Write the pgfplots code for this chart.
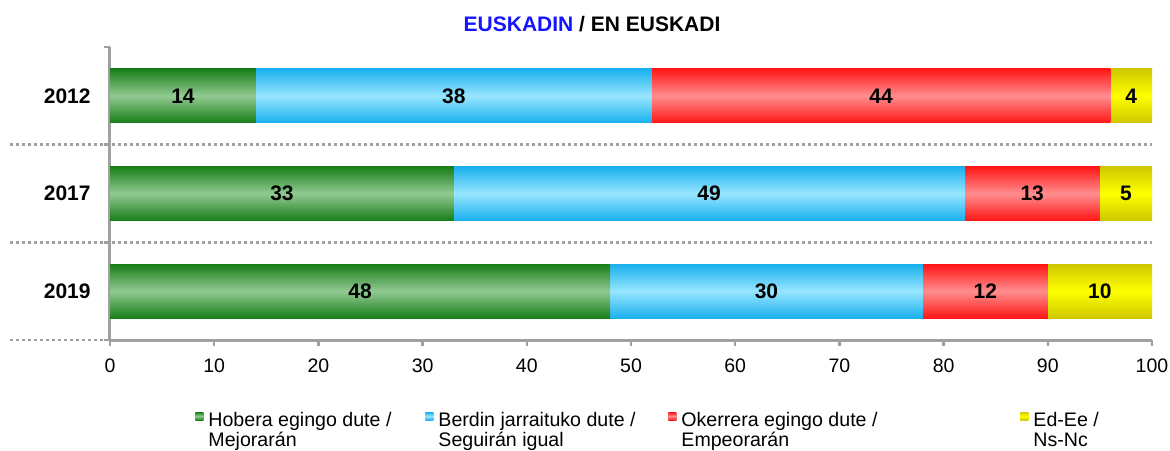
\documentclass[border=0pt]{standalone}
\usepackage{pgfplots}
\pgfplotsset{compat=1.18}
\usepackage{fontspec}
\setmainfont{Liberation Sans}

\definecolor{axgray}{RGB}{160,160,160}
\definecolor{titleblue}{RGB}{20,20,255}
\definecolor{gEdge}{RGB}{24,126,24}
\definecolor{gMid}{RGB}{146,202,146}
\definecolor{bEdge}{RGB}{26,176,238}
\definecolor{bMid}{RGB}{152,230,255}
\definecolor{rEdge}{RGB}{255,22,22}
\definecolor{rMid}{RGB}{255,142,142}
\definecolor{yEdge}{RGB}{206,200,0}
\definecolor{yMid}{RGB}{255,255,0}

% one axis per year, so that every bar is its own path and gets its own shading
\pgfplotsset{
  rowaxis/.style={
    scale only axis, width=521pt, height=146.5pt,
    xbar stacked, bar width=0.55,
    xmin=0, xmax=100, ymin=-0.5, ymax=2.5,
    clip=false,
    /pgf/number format/assume math mode=true,
    visualization depends on={rawx \as \rawx},
    nodes near coords={\pgfmathprintnumber{\rawx}},
    every node near coord/.append style={font=\bfseries\fontsize{10.5}{12}\selectfont, anchor=center},
  },
  sGreen/.style={draw=none, top color=gEdge, bottom color=gEdge, middle color=gMid},
  sBlue/.style={draw=none, top color=bEdge, bottom color=bEdge, middle color=bMid},
  sRed/.style={draw=none, top color=rEdge, bottom color=rEdge, middle color=rMid},
  sYellow/.style={draw=none, top color=yEdge, bottom color=yEdge, middle color=yMid},
}

\begin{document}
\begin{tikzpicture}
\useasboundingbox (-55pt,-55pt) rectangle (530pt,170pt);
\begin{axis}[
    rowaxis,
    axis x line*=bottom, axis y line*=left,
    axis line style={draw=axgray, line width=1.5pt, -},
    xtick={0,10,...,100},
    ytick={0,1,2}, yticklabels={2019,2017,2012},
    minor ytick={-0.5,0.5,1.5,2.5},
    tick align=outside,
    major tick length=3pt, minor tick length=3pt,
    major x tick style={draw=axgray, line width=1.2pt},
    major y tick style={draw=none},
    minor y tick style={draw=axgray, line width=1.2pt},
    xticklabel style={font=\fontsize{9.75}{11}\selectfont, inner sep=0pt, yshift=-6pt},
    yticklabel style={font=\bfseries\fontsize{10.5}{12}\selectfont, inner sep=0pt, xshift=-6.5pt},
    legend image code/.code={\path[#1] (0pt,0.3pt) rectangle (4pt,4.3pt);},
    legend columns=4,
    legend style={at={(0.0816,-0.245)}, anchor=north west, draw=none, inner sep=0pt,
        column sep=0pt, nodes={inner sep=0pt, font=\fontsize{9.8}{10}\selectfont}},
    /tikz/every odd column/.append style={column sep=2.5pt},
    legend cell align=left,
]
% 2012
\addplot[sGreen] coordinates {(14,2)};
\addlegendentry{\parbox[t]{108.5pt}{Hobera egingo dute /\\Mejorarán}}
\addplot[sBlue] coordinates {(38,2)};
\addlegendentry{\parbox[t]{115pt}{Berdin jarraituko dute /\\Seguirán igual}}
\addplot[sRed] coordinates {(44,2)};
\addlegendentry{\parbox[t]{169.5pt}{Okerrera egingo dute /\\Empeorarán}}
\addplot[sYellow] coordinates {(4,2)};
\addlegendentry{\parbox[t]{50pt}{Ed-Ee /\\Ns-Nc}}

\draw[axgray, line width=1.2pt, dash pattern=on 1.5pt off 1.5pt]
    ([xshift=-50pt]axis cs:0,0.5) -- (axis cs:100,0.5);
\draw[axgray, line width=1.2pt, dash pattern=on 1.5pt off 1.5pt]
    ([xshift=-50pt]axis cs:0,1.5) -- (axis cs:100,1.5);
\draw[axgray, line width=1.2pt, dash pattern=on 1.5pt off 1.5pt]
    ([xshift=-50pt]axis cs:0,-0.5) -- ([xshift=-3pt]axis cs:0,-0.5);

\node[font=\bfseries\fontsize{10.5}{12}\selectfont] at (rel axis cs:0.4626,1.078)
    {\textcolor{titleblue}{EUSKADIN} / EN EUSKADI};
\end{axis}

% 2017
\begin{axis}[rowaxis, hide axis]
\addplot[sGreen] coordinates {(33,1)};
\addplot[sBlue] coordinates {(49,1)};
\addplot[sRed] coordinates {(13,1)};
\addplot[sYellow] coordinates {(5,1)};
\end{axis}

% 2019
\begin{axis}[rowaxis, hide axis]
\addplot[sGreen] coordinates {(48,0)};
\addplot[sBlue] coordinates {(30,0)};
\addplot[sRed] coordinates {(12,0)};
\addplot[sYellow] coordinates {(10,0)};
\end{axis}
\end{tikzpicture}
\end{document}
